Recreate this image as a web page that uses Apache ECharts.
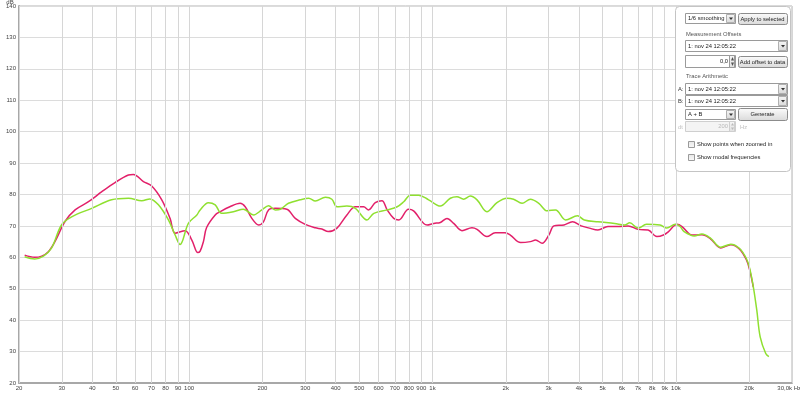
<!DOCTYPE html>
<html><head><meta charset="utf-8">
<script src="https://cdn.jsdelivr.net/npm/echarts@6/dist/echarts.min.js"></script>
<style>html,body{margin:0;padding:0;background:#fff}#c{width:800px;height:393px}</style>
</head><body><div id="c"></div>
<script>
// ---- data ----
const redFreq = [21.1,23.2,24.8,26.4,28.1,30.9,34,38.6,43.8,49.6,56.3,59,64.9,70.2,77.2,83.5,87.6,96.3,102.6,108.6,111,114.5,118,128,134,147,162,170,181,193,202,212,226,252,273,300,330,351,373,405,445,482,521,546,582,620,651,693,727,797,836,950,1012,1077,1147,1222,1322,1453,1524,1673,1810,1987,2087,2302,2526,2651,2822,3006,3155,3470,3760,4080,4410,4781,5260,5780,6370,6997,7690,8350,8890,9330,10100,10600,11650,12800,13870,15280,16820,18220,19460,20100,20800];
const redDb = [60.7,60.0,60.4,61.8,65.0,71.4,75.1,77.7,80.9,83.8,86.2,86.4,84.1,82.7,78.3,72.4,67.7,68.5,65.5,61.5,62.0,65.0,69.5,73.5,74.5,76.1,77.2,76.1,72.4,70.3,71.3,75.1,75.6,75.3,72.4,70.5,69.4,69.0,68.2,69.3,73.5,76.1,76.1,75.1,77.4,78.0,75.1,72.4,71.9,75.3,74.8,70.3,70.8,71.1,72.4,70.8,68.5,69.4,68.9,66.6,67.8,67.8,67.1,64.7,65.0,65.5,64.5,67.1,70.0,70.3,71.3,70.0,69.3,68.7,69.8,69.8,70.0,68.9,68.7,66.6,67.1,68.2,70.5,69.8,67.1,67.2,65.9,63.0,64.0,62.7,59.3,56.0,50.5];
const greenFreq = [21.1,23.2,25.2,27.2,29.9,32.9,39.8,48,56.3,63.9,69,74.8,82.2,87.6,91.8,99.3,107.6,111,120,128,136,152,167,184,199,212,226,237,256,286,310,330,363,386,405,445,482,538,574,651,716,762,811,877,964,1077,1184,1260,1342,1430,1524,1673,1840,2021,2153,2333,2526,2734,2960,3203,3526,3943,4203,4781,5600,6160,6460,6997,7575,8609,9180,9946,10400,10800,11900,12800,13870,15280,16820,18220,19460,20100,20800,21500,22200,23400,24100];
const greenDb = [60.2,59.5,60.4,62.9,70.3,72.9,75.6,78.3,78.8,78.0,78.6,76.7,71.9,67.1,64.1,70.8,73.5,75.1,77.4,76.7,74.0,74.5,75.3,73.5,75.1,76.4,75.1,75.3,77.2,78.3,78.8,77.9,79.1,78.5,76.1,76.3,75.6,71.9,74.0,75.1,76.1,77.7,79.8,79.8,78.3,76.3,78.8,79.3,78.5,79.5,78.3,74.5,77.4,78.8,78.5,77.2,78.5,77.2,74.8,75.1,71.9,73.2,71.9,71.3,70.8,70.3,71.0,69.3,70.5,70.3,69.3,70.5,69.8,68.2,66.8,67.4,66.1,63.2,64.2,62.9,59.7,56.5,50.7,43.2,34.7,29.4,28.4];
const xTickValues = [20,30,40,50,60,70,80,90,100,200,300,400,500,600,700,800,900,1000,2000,3000,4000,5000,6000,7000,8000,9000,10000,20000,30000];
const xTickLabels = ['20','30','40','50','60','70','80','90','100','200','300','400','500','600','700','800','900','1k','2k','3k','4k','5k','6k','7k','8k','9k','10k','20k','30,0k Hz'];
const yMin = 20, yMax = 140, yStep = 10;
const unitLabel = 'dB';

// ---- panel texts ----
const smoothingText = '1/6 smoothing';
const measText = '1: nov 24 12:05:22';

const FONT = 'Liberation Sans';
const FS = 5.8;

function txt(x, y, s, o) {
  o = o || {};
  return {type:'text', z:102, silent:true, x:x, y:y, style:{text:s, fontSize:o.fs||FS, fontFamily:FONT,
    fill:o.fill||'#222', textAlign:o.align||'left', align:o.align||'left', textVerticalAlign:'middle', verticalAlign:'middle'}};
}
function grad(a, b) {
  return new echarts.graphic.LinearGradient(0,0,0,1,[{offset:0,color:a},{offset:1,color:b}]);
}
function arrowDown(cx, cy, fill) {
  return {type:'polygon', z:102, silent:true, shape:{points:[[cx-2,cy-1],[cx+2,cy-1],[cx,cy+1.5]]}, style:{fill:fill||'#333'}};
}
function dropdown(x, y, w, h, s) {
  return [
    {type:'rect', z:101, silent:true, shape:{x:x+0.5,y:y+0.5,width:w,height:h}, style:{fill:'#fff', stroke:'#9a9a9a', lineWidth:1}},
    {type:'rect', z:101, silent:true, shape:{x:x+w-8.5,y:y+1.5,width:8,height:h-2}, style:{fill:grad('#f7f7f7','#d8d8d8'), stroke:'#b0b0b0', lineWidth:1}},
    arrowDown(x+w-4, y+h/2+0.5),
    txt(x+3, y+h/2+0.5, s)
  ];
}
function button(x, y, w, h, s) {
  return [
    {type:'rect', z:101, silent:true, shape:{x:x+0.5,y:y+0.5,width:w,height:h,r:2}, style:{fill:grad('#fcfcfc','#d9d9d9'), stroke:'#8c8c8c', lineWidth:1}},
    txt(x+w/2, y+h/2+0.5, s, {align:'center'})
  ];
}
function spinner(x, y, w, h, s, disabled) {
  const tc = disabled ? '#b8b8b8' : '#222';
  const bc = disabled ? '#cfcfcf' : '#9a9a9a';
  return [
    {type:'rect', z:101, silent:true, shape:{x:x+0.5,y:y+0.5,width:w,height:h}, style:{fill:disabled?'#f4f4f4':'#fff', stroke:bc, lineWidth:1}},
    {type:'rect', z:101, silent:true, shape:{x:x+w-5.5,y:y+0.5,width:5,height:h}, style:{fill:grad('#f7f7f7','#e0e0e0'), stroke:bc, lineWidth:1}},
    {type:'polygon', z:102, silent:true, shape:{points:[[x+w-4,y+h/2-0.5],[x+w-1,y+h/2-0.5],[x+w-2.5,y+2]]}, style:{fill:disabled?'#bbb':'#555'}},
    {type:'polygon', z:102, silent:true, shape:{points:[[x+w-4,y+h/2+1.5],[x+w-1,y+h/2+1.5],[x+w-2.5,y+h-1]]}, style:{fill:disabled?'#bbb':'#555'}},
    txt(x+w-7, y+h/2+0.5, s, {align:'right', fill:tc})
  ];
}
function checkbox(x, y, s) {
  return [
    {type:'rect', z:101, silent:true, shape:{x:x+0.5,y:y+0.5,width:6,height:6}, style:{fill:grad('#e6e6e6','#fafafa'), stroke:'#9a9a9a', lineWidth:1}},
    txt(x+9, y+3.5, s)
  ];
}

const panel = [].concat(
  [{type:'rect', z:100, silent:true, shape:{x:675.5,y:6.5,width:115,height:165,r:4}, style:{fill:'#fff', stroke:'#c4c4c4', lineWidth:1}}],
  dropdown(685, 13, 50, 10, smoothingText),
  button(738, 13, 49, 11, 'Apply to selected'),
  [txt(686, 34, 'Measurement Offsets', {fill:'#555'})],
  dropdown(685, 40, 102, 11, measText),
  spinner(685, 55, 50, 12, '0,0', false),
  button(738, 56, 49, 11, 'Add offset to data'),
  [txt(686, 76, 'Trace Arithmetic', {fill:'#555'})],
  [txt(678, 89, 'A:', {fill:'#333'})],
  dropdown(685, 83, 102, 11, measText),
  [txt(678, 101, 'B:', {fill:'#333'})],
  dropdown(685, 95, 102, 11, measText),
  dropdown(685, 109, 50, 10, 'A + B'),
  button(738, 108, 49, 12, 'Generate'),
  [txt(678, 127, 'dt', {fill:'#c0c0c0'})],
  spinner(685, 121, 50, 10, '200', true),
  [txt(740, 127, 'Hz', {fill:'#c0c0c0'})],
  checkbox(688, 141, 'Show points when zoomed in'),
  checkbox(688, 154, 'Show modal frequencies'),
  [txt(10, 2.5, unitLabel, {fill:'#444', fs:6, align:'center'})]
);

const lastIdx = xTickValues.length - 1;
const chart = echarts.init(document.getElementById('c'), null, {renderer:'canvas'});
chart.setOption({
  animation: false,
  backgroundColor: '#fff',
  grid: {left:19, right:8, top:6, bottom:10, show:true, borderColor:'#b4b4b4', borderWidth:1, backgroundColor:'#fff'},
  xAxis: {type:'log', logBase:10, min:20, max:30000,
    axisLine:{show:true, lineStyle:{color:'#a8a8a8', width:2}}, axisTick:{show:false}, axisLabel:{show:false}, splitLine:{show:false}},
  yAxis: {type:'value', min:yMin, max:yMax, interval:yStep,
    axisLine:{show:true, lineStyle:{color:'#a8a8a8', width:2}}, axisTick:{show:false},
    axisLabel:{fontSize:6, color:'#444', margin:3, fontFamily:FONT},
    splitLine:{show:true, lineStyle:{color:'#dcdcdc', width:1}}},
  graphic: {elements: panel},
  series: [
    {type:'line', data:[], z:1, silent:true,
      markLine:{silent:true, symbol:'none', animation:false,
        lineStyle:{color:'#d6d6d6', width:1, type:'solid'},
        label:{show:true, position:'start', distance:2, fontSize:6, color:'#444', fontFamily:FONT,
          formatter: p => xTickLabels[xTickValues.indexOf(p.value)]},
        emphasis:{disabled:true},
        data: xTickValues.map((v, i) => i === lastIdx
          ? {xAxis:v, label:{align:'right', offset:[9,0]}}
          : {xAxis:v})}},
    {type:'line', z:3, name:'A', showSymbol:false, smooth:0.35, silent:true,
      lineStyle:{color:'#e2206a', width:1.5}, itemStyle:{color:'#e2206a'},
      data: redFreq.map((f,i) => [f, redDb[i]])},
    {type:'line', z:4, name:'B', showSymbol:false, smooth:0.35, silent:true,
      lineStyle:{color:'#8fe030', width:1.5}, itemStyle:{color:'#8fe030'},
      data: greenFreq.map((f,i) => [f, greenDb[i]])}
  ]
});
</script></body></html>
